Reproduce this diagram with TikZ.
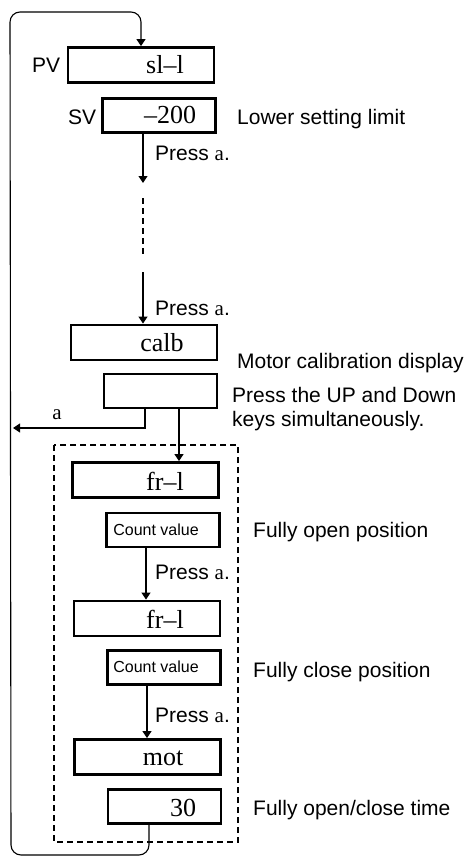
\documentclass[tikz,border=0pt]{standalone}
\usepackage{fontspec}
\setmainfont{Liberation Serif}
\setsansfont{Liberation Sans}
\usetikzlibrary{arrows.meta, positioning, calc}
\newcommand{\keya}{{\rmfamily a}}

\begin{document}
\begin{tikzpicture}[
  x=1pt, y=-1pt,
  dispbox/.style={draw, line width=2.8pt, minimum width=146pt,
                  minimum height=35pt, inner sep=0pt},
  valbox/.style={draw, line width=2.8pt, minimum width=113pt,
                 minimum height=34pt, inner sep=0pt},
  disptxt/.style={font=\rmfamily\fontsize{26}{28}\selectfont, inner sep=0pt},
  note/.style={font=\sffamily\fontsize{21}{24}\selectfont, inner sep=0pt,
               anchor=west, align=left},
  cntlbl/.style={font=\sffamily\fontsize{16}{18}\selectfont, inner sep=0pt},
  flow/.style={line width=1.1pt},
  frame/.style={line width=1.1pt, dash pattern=on 6pt off 4pt},
  >={Triangle[length=7pt, width=9pt]}
]
  \useasboundingbox (0,0) rectangle (467,857);

  % display boxes
  \node[dispbox] (pv)     at (141,65)    {};
  \node[valbox]  (sv)     at (159,115.5) {};
  \node[dispbox] (calb)   at (144,342.5) {};
  \node[valbox]  (blank)  at (160.5,391) {};
  \node[dispbox] (frl1)   at (145.5,480) {};
  \node[valbox]  (cnt1)   at (163,530)   {};
  \node[dispbox] (frl2)   at (147,618.5) {};
  \node[valbox]  (cnt2)   at (164,667.5) {};
  \node[dispbox] (mot)    at (147.5,757) {};
  \node[valbox]  (thirty) at (164.5,806.5) {};

  % texts in the boxes
  \node[disptxt] (pvtxt)     at (165,65)  {sl--l};
  \node[disptxt] (svtxt)     at (170,115) {--200};
  \node[disptxt] (calbtxt)   at (162,343) {calb};
  \node[disptxt] (frl1txt)   at (165,481) {fr--l};
  \node[cntlbl]  (cnt1txt)   at (156,530) {Count value};
  \node[disptxt] (frl2txt)   at (165,619) {fr--l};
  \node[cntlbl]  (cnt2txt)   at (156,667) {Count value};
  \node[disptxt] (mottxt)    at (163,758) {mot};
  \node[disptxt] (thirtytxt) at (183,808) {30};

  % labels
  \node[note] (pvlbl) at (32,65)  {PV};
  \node[note] (svlbl) at (68,117) {SV};
  \node[note] (lower) at (237,119) {Lower setting limit};
  \node[note] (pressA) at (155,153) {Press \keya.};
  \node[note] (pressB) at (155,308) {Press \keya.};
  \node[note] (motor)  at (237,363) {Motor calibration display};
  \node[note] (updown) at (232,409) {Press the UP and Down\\keys simultaneously.};
  \node[font=\rmfamily\fontsize{21}{24}\selectfont, inner sep=0pt] (alabel) at (57,415) {a};
  \node[note] (openpos)  at (253,532) {Fully open position};
  \node[note] (pressC)   at (155,572) {Press \keya.};
  \node[note] (closepos) at (253,672) {Fully close position};
  \node[note] (pressD)   at (155,715) {Press \keya.};
  \node[note] (opentime) at (253,810) {Fully open/close time};

  \coordinate (dotA) at (143,183);
  \coordinate (dashtop) at (143,198);
  \coordinate (dashbot) at (143,257);
  \coordinate (resume) at (143,272);
  \coordinate (back) at (13,428);
  \coordinate (loopbl) at (11,855);
  \coordinate (looptl) at (10,12);

  % connectors
  \draw[flow, ->] ([xshift=-16]sv.south) -- (dotA);
  \draw[frame] (dashtop) -- (dashbot);
  \draw[flow, ->] (resume) -- (resume |- calb.north);
  \draw[flow, ->] ([xshift=-15.5]blank.south) |- (back);
  \draw[flow, ->] ([xshift=18.5]blank.south) -- ([xshift=18.5]blank.south |- frl1.north);
  \draw[flow, ->] ([xshift=-17]cnt1.south) -- ([xshift=-17]cnt1.south |- frl2.north);
  \draw[flow, ->] ([xshift=-17]cnt2.south) -- ([xshift=-17]cnt2.south |- mot.north);
  \draw[flow, ->, rounded corners=10pt] ([xshift=-15.5]thirty.south)
    |- (loopbl) -- (looptl) -| (pv.north);

  % calibration group
  \draw[frame] (54,445) rectangle (238,842);
\end{tikzpicture}
\end{document}
